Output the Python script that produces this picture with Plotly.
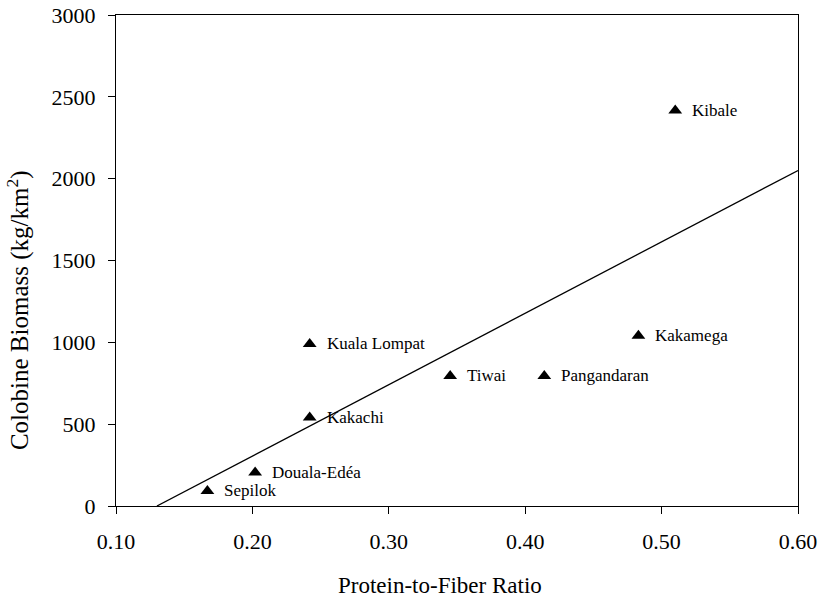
import plotly.graph_objects as go

sites = ["Sepilok", "Douala-Edéa", "Kakachi", "Kuala Lompat", "Tiwai",
         "Pangandaran", "Kakamega", "Kibale"]
ratio = [0.167, 0.202, 0.242, 0.242, 0.345, 0.414, 0.483, 0.510]
biomass = [92, 205, 540, 990, 795, 795, 1040, 2417]

fit_x = [0.13, 0.60]
fit_y = [0, 2050]

x_ticks = [0.10, 0.20, 0.30, 0.40, 0.50, 0.60]
y_ticks = [0, 500, 1000, 1500, 2000, 2500, 3000]

FONT = "Liberation Serif, Times New Roman, serif"

fig = go.Figure()
fig.add_trace(go.Scatter(x=fit_x, y=fit_y, mode="lines",
                         line=dict(color="black", width=1.3),
                         showlegend=False, hoverinfo="skip", cliponaxis=False))
fig.add_trace(go.Scatter(x=ratio, y=biomass, mode="markers",
                         marker=dict(symbol="triangle-up", size=12, color="black"),
                         showlegend=False))

for s, xv, yv in zip(sites, ratio, biomass):
    fig.add_annotation(x=xv, y=yv, text=s, showarrow=False, xanchor="left",
                       yanchor="middle", xshift=15, yshift=0,
                       font=dict(family=FONT, size=17, color="black"))

fig.add_annotation(xref="paper", yref="paper", x=0.475, y=-0.162,
                   text="Protein-to-Fiber Ratio", showarrow=False,
                   xanchor="center", yanchor="middle",
                   font=dict(family=FONT, size=23, color="black"))
fig.add_annotation(xref="paper", yref="paper", x=-0.143, y=0.40,
                   text="Colobine Biomass (kg/km<sup>2</sup>)", showarrow=False,
                   textangle=-90, xanchor="center", yanchor="middle",
                   font=dict(family=FONT, size=25, color="black"))

fig.update_layout(
    width=820, height=599,
    margin=dict(l=116, r=22, t=15, b=92.5, autoexpand=False),
    paper_bgcolor="white", plot_bgcolor="white",
    font=dict(family=FONT, size=22, color="black"),
)
fig.update_xaxes(range=[0.10, 0.60], tickvals=x_ticks, tickformat=".2f",
                 showgrid=False, zeroline=False, showline=True, linecolor="black",
                 linewidth=1.3, mirror=True, ticks="outside", ticklen=7,
                 tickcolor="black", tickwidth=1.3, automargin=False,
                 ticklabelstandoff=8, ticklabeloverflow="allow",
                 tickfont=dict(family=FONT, size=22, color="black"))
fig.update_yaxes(range=[0, 3000], tickvals=y_ticks,
                 showgrid=False, zeroline=False, showline=True, linecolor="black",
                 linewidth=1.3, mirror=True, ticks="outside", ticklen=7,
                 tickcolor="black", tickwidth=1.3, automargin=False,
                 ticklabelstandoff=8, ticklabeloverflow="allow",
                 tickfont=dict(family=FONT, size=22, color="black"))

fig.write_html("out.html", config={"displayModeBar": False},
               post_script="document.body.style.margin='0';"
                           "document.body.style.overflow='hidden';")
